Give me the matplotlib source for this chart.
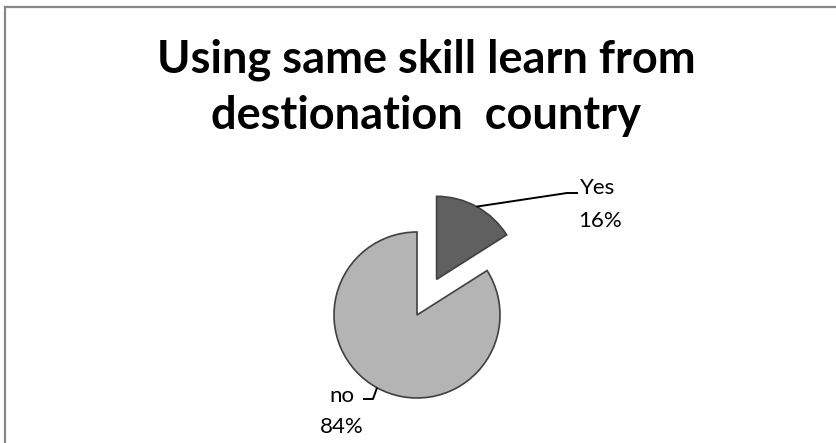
import matplotlib
matplotlib.use("Agg")
import matplotlib.pyplot as plt
import numpy as np
from matplotlib.lines import Line2D

# Survey answers
categories = ["Yes", "no"]
shares = [16, 84]
slice_colors = ["#606060", "#b4b4b4"]
title_lines = ["Using same skill learn from", "destionation  country"]

W, H = 837, 443
fig = plt.figure(figsize=(W / 100, H / 100), dpi=100)
ax = fig.add_axes([0, 0, 1, 1])

center = (417, H - 315)
radius = 83
explode_frac = [0.49, 0.0]
wedges, _ = ax.pie(
    shares,
    explode=[f * radius for f in explode_frac],
    colors=slice_colors,
    startangle=90,
    counterclock=False,
    center=center,
    radius=radius,
    wedgeprops=dict(edgecolor="#404040", linewidth=1.2),
)
ax.set_xlim(0, W)
ax.set_ylim(0, H)
ax.set_aspect("equal")
ax.axis("off")


def arc_mid(w):
    ang = np.deg2rad((w.theta1 + w.theta2) / 2)
    cx, cy = w.center
    return cx + w.r * np.cos(ang), cy + w.r * np.sin(ang)


total = sum(shares)
pcts = [f"{v / total * 100:.0f}%" for v in shares]
label_font = dict(family="Lato", fontsize=16, color="#000000", ha="center", va="baseline")

# "Yes" label with leader line
x0, y0 = arc_mid(wedges[0])
ax.plot([x0, 567, 578], [y0, H - 193, H - 193], color="black", lw=1.4, solid_capstyle="butt")
ax.text(598, H - 194, categories[0], **label_font)
ax.text(600, H - 227, pcts[0], **label_font)

# "no" label with leader line
x1, y1 = arc_mid(wedges[1])
ax.plot([x1, 373, 363], [y1, H - 399, H - 399], color="black", lw=1.4, solid_capstyle="butt")
ax.text(342, H - 402, categories[1], **label_font)
ax.text(342, H - 433, pcts[1], **label_font)

# Title
title_font = dict(family="Lato", fontweight="bold", fontsize=32.5, color="#000000",
                  ha="center", va="baseline")
ax.text(426, H - 72, title_lines[0], **title_font)
ax.text(426, H - 129, title_lines[1], **title_font)

# Chart frame (top and left edges)
frame_color = "#888888"
fig.add_artist(Line2D([5 / W, 1], [1 - 6.5 / H, 1 - 6.5 / H], transform=fig.transFigure,
                      color=frame_color, lw=1.6))
fig.add_artist(Line2D([5 / W, 5 / W], [0, 1 - 6.5 / H], transform=fig.transFigure,
                      color=frame_color, lw=1.6))

fig.savefig("out.png", dpi=100, facecolor="white")
